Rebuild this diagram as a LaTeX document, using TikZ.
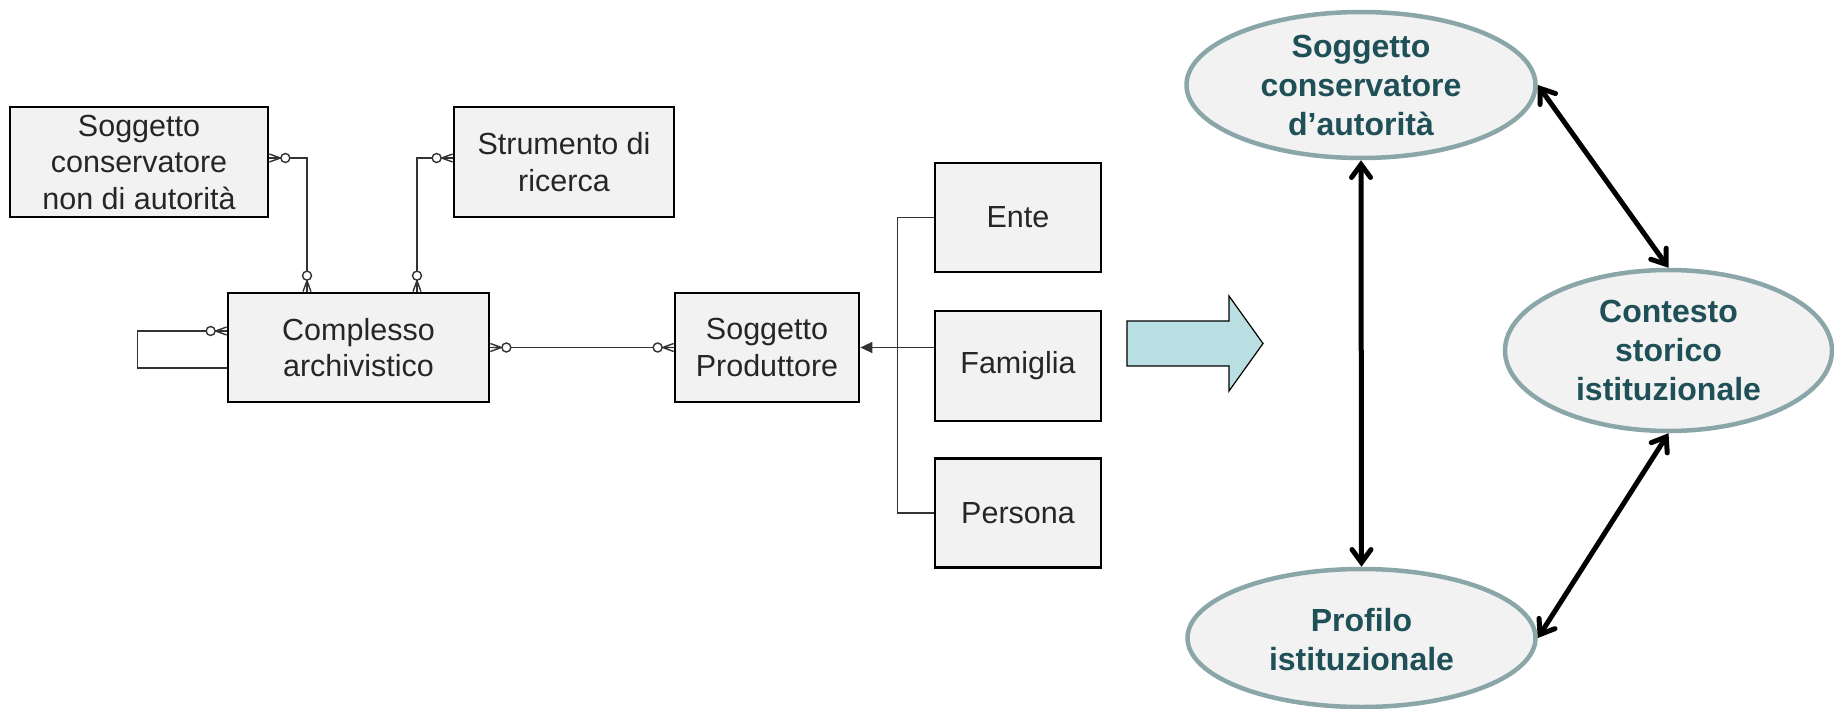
\documentclass[tikz,border=0pt]{standalone}
\usepackage{fontspec}
\setmainfont{Liberation Sans}
\usetikzlibrary{arrows.meta,shapes.geometric}
\definecolor{boxfill}{HTML}{F2F2F2}
\definecolor{ellline}{HTML}{8AA6A9}
\definecolor{elltext}{HTML}{1F4F57}
\definecolor{bigarrow}{HTML}{B9DFE2}
\definecolor{erink}{HTML}{333333}
\begin{document}
\begin{tikzpicture}[x=1pt,y=-1pt,
  entity/.style={draw=black, line width=2.7pt, fill=boxfill, align=center, inner sep=0pt,
    font=\fontsize{30.5}{36.5}\selectfont, text=black!85},
  erline/.style={draw=erink, line width=1.4pt},
  concept/.style={ellipse, draw=ellline, line width=4.5pt, fill=boxfill, inner sep=0pt},
  concepttext/.style={align=center, inner sep=0pt, font=\bfseries\fontsize{32}{39}\selectfont, text=elltext},
  link/.style={line width=5pt, line cap=round,
    {Straight Barb[length=13pt,width=19pt,line cap=round]}-{Straight Barb[length=13pt,width=19pt,line cap=round]}},
  zmany/.pic={\draw[erline] (0,-4) -- (11,0) -- (0,4) (0,0) -- (11,0);
              \draw[erline, fill=white] (16,0) circle[radius=4.5pt];}
]
\useasboundingbox (0,0) rectangle (1834,709);

% ER entities
\node[entity, minimum width=258pt, minimum height=110pt] (scna) at (139,162) {Soggetto\\conservatore\\non di autorità};
\node[entity, minimum width=220pt, minimum height=110pt] (str) at (564,162) {Strumento di\\ricerca};
\node[entity, minimum width=261pt, minimum height=109pt] (cx) at (358.5,347.5) {Complesso\\archivistico};
\node[entity, minimum width=184pt, minimum height=109pt] (prod) at (767,347.5) {Soggetto\\Produttore};
\node[entity, minimum width=166pt, minimum height=109pt] (ente) at (1018,217.5) {Ente};
\node[entity, minimum width=166pt, minimum height=110pt] (fam) at (1018,366) {Famiglia};
\node[entity, minimum width=166pt, minimum height=109pt] (pers) at (1018,513) {Persona};

% ER connectors
\draw[erline] ([yshift=4pt]scna.east) -| ([xshift=-51.5pt]cx.north);
\draw[erline] ([yshift=4pt]str.west) -| ([xshift=58.5pt]cx.north);
\draw[erline] ([yshift=16.5pt]cx.west) -- ++(-89,0) |- ([yshift=-20.5pt]cx.west);
\draw[erline] (cx.east) -- (prod.west);
\draw[erline, -{Triangle[length=12pt,width=11pt]}] (fam.west |- prod.east) -- (prod.east);
\draw[erline] (ente.west) -- ++(-36,0) |- (pers.west);

% zero-or-many marks
\pic at ([yshift=4pt]scna.east) {zmany};
\pic[rotate=90] at ([xshift=-51.5pt]cx.north) {zmany};
\pic[rotate=90] at ([xshift=58.5pt]cx.north) {zmany};
\pic[rotate=180] at ([yshift=4pt]str.west) {zmany};
\pic[rotate=180] at ([yshift=16.5pt]cx.west) {zmany};
\pic at (cx.east) {zmany};
\pic[rotate=180] at (prod.west) {zmany};

% big arrow
\draw[fill=bigarrow, line width=1.2pt, line join=miter]
  (1127,321) -- (1229,321) -- (1229,296) -- (1263,343.5) -- (1229,391) -- (1229,366) -- (1127,366) -- cycle;

% concept ellipses
\node[concept, minimum width=349pt, minimum height=146pt] (sca) at (1361,85) {};
\node[concepttext] (scaT) at (sca.center) {Soggetto\\conservatore\\d’autorità};
\node[concept, minimum width=327pt, minimum height=161pt] (csi) at (1668.5,350.5) {};
\node[concepttext] (csiT) at (csi.center) {Contesto\\storico\\istituzionale};
\node[concept, minimum width=348pt, minimum height=138pt] (pi) at (1361.5,638) {};
\node[concepttext] (piT) at ([yshift=-2pt]pi.center) {Profilo\\istituzionale};

% relations
\draw[link] (sca.south) -- (pi.north);
\draw[link] (sca.east) -- (csi.north);
\draw[link] (csi.south) -- (pi.east);
\end{tikzpicture}
\end{document}
